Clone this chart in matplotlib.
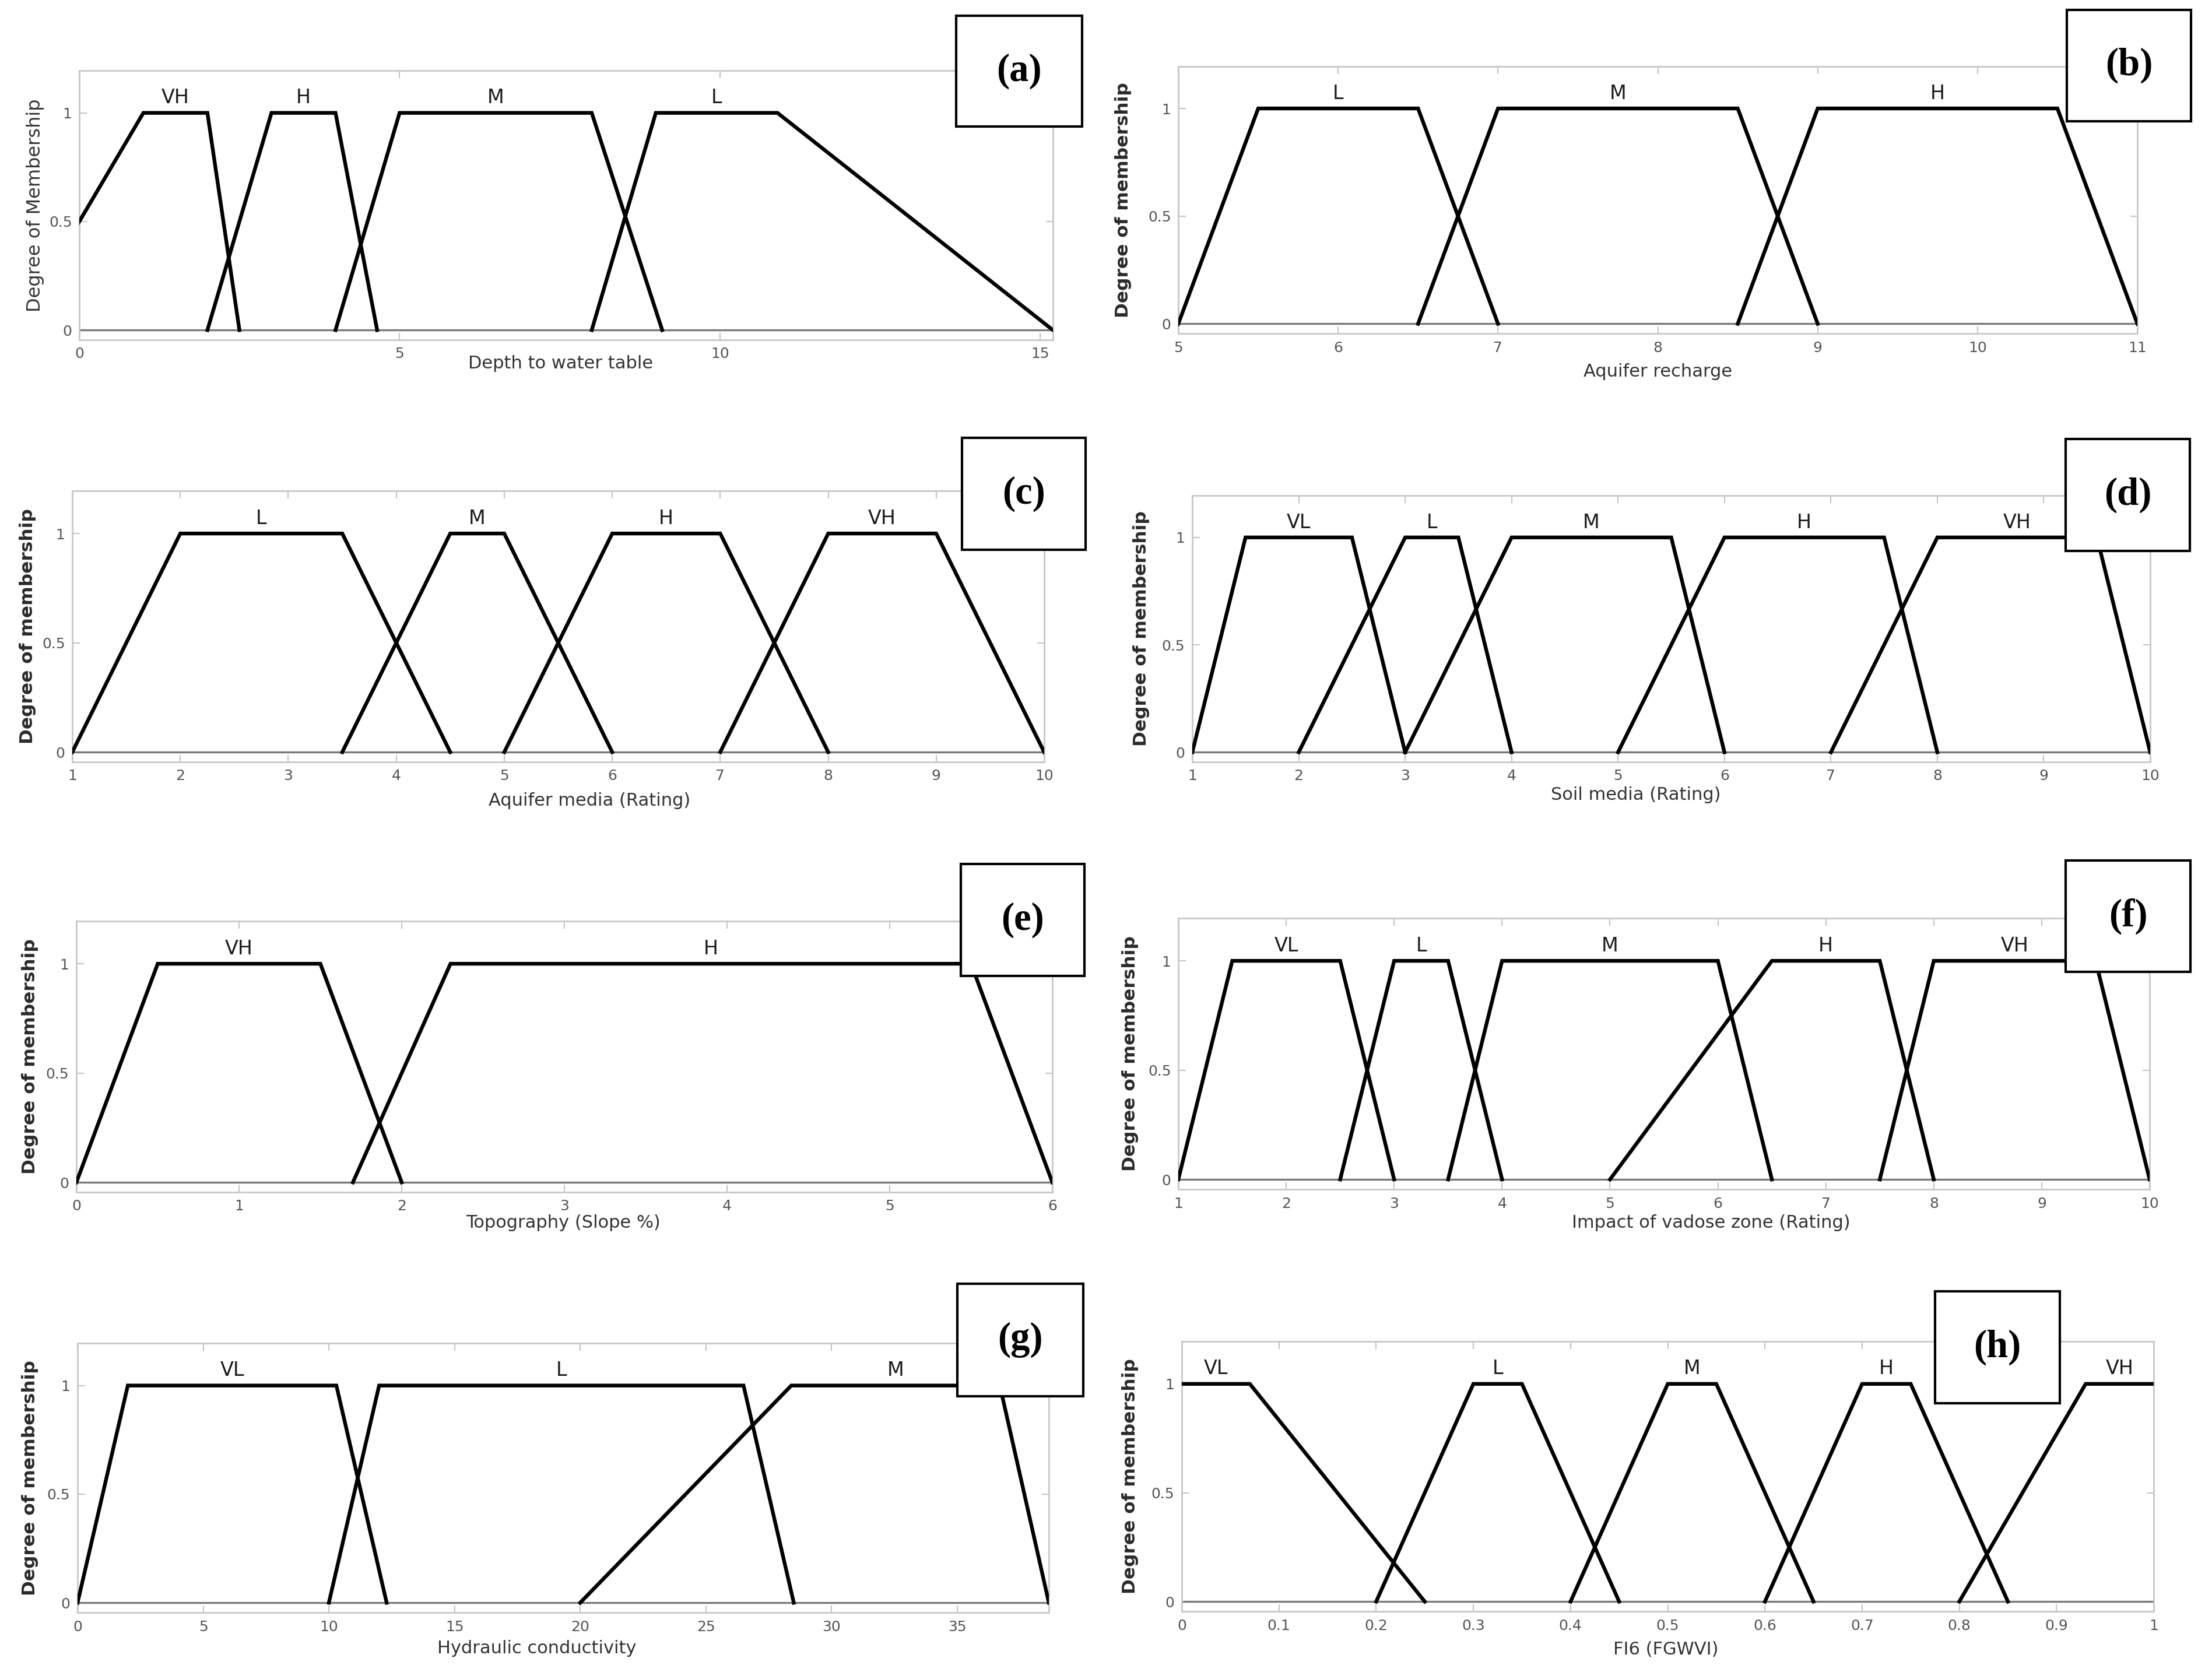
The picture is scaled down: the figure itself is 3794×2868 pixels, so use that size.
import matplotlib
matplotlib.use("Agg")
import matplotlib.pyplot as plt
from matplotlib.patches import Rectangle

# membership functions, trapezoids [a, b, c, d]
depth_terms = ['VH', 'H', 'M', 'L']
depth_mf = [[-1, 1, 2, 2.5], [2, 3, 4, 4.65], [4, 5, 8, 9.1], [8, 9, 10.9, 15.2]]

recharge_terms = ['L', 'M', 'H']
recharge_mf = [[5, 5.5, 6.5, 7], [6.5, 7, 8.5, 9], [8.5, 9, 10.5, 11]]

aquifer_terms = ['L', 'M', 'H', 'VH']
aquifer_mf = [[1, 2, 3.5, 4.5], [3.5, 4.5, 5, 6], [5, 6, 7, 8], [7, 8, 9, 10]]

soil_terms = ['VL', 'L', 'M', 'H', 'VH']
soil_mf = [[1, 1.5, 2.5, 3], [2, 3, 3.5, 4], [3, 4, 5.5, 6], [5, 6, 7.5, 8], [7, 8, 9.5, 10]]

topo_terms = ['VH', 'H']
topo_mf = [[0, 0.5, 1.5, 2], [1.7, 2.3, 5.5, 6]]

vadose_terms = ['VL', 'L', 'M', 'H', 'VH']
vadose_mf = [[1, 1.5, 2.5, 3], [2.5, 3, 3.5, 4], [3.5, 4, 6, 6.5], [5, 6.5, 7.5, 8], [7.5, 8, 9.5, 10]]

hydraulic_terms = ['VL', 'L', 'M']
hydraulic_mf = [[0, 2, 10.3, 12.3], [10, 12, 26.5, 28.5], [20, 28.4, 36.7, 38.65]]

fgwvi_terms = ['VL', 'L', 'M', 'H', 'VH']
fgwvi_mf = [[0, 0, 0.07, 0.25], [0.2, 0.3, 0.35, 0.45], [0.4, 0.5, 0.55, 0.65],
            [0.6, 0.7, 0.75, 0.85], [0.8, 0.93, 1, 1]]

W, H = 3794, 2868

# (tag, terms, mfs, xlim, xticks, xlabel, ylabel, axes px [L,T,R,B], box px [x0,y0,x1,y1],
#  xlabel centre px, ylabel x px)
panels = [
    ('(a)', depth_terms, depth_mf, (0, 15.2), [0, 5, 10, 15], 'Depth to water table',
     'Degree of Membership', [136, 121, 1806, 583], [1640, 27, 1856, 217], (962, 624), 61),
    ('(b)', recharge_terms, recharge_mf, (5, 11), list(range(5, 12)), 'Aquifer recharge',
     'Degree of membership', [2021, 114, 3666, 572], [3545, 17, 3758, 208], (2844, 637), 1927),
    ('(c)', aquifer_terms, aquifer_mf, (1, 10), list(range(1, 11)), 'Aquifer media (Rating)',
     'Degree of membership', [124, 842, 1791, 1307], [1650, 751, 1862, 943], (1011, 1374), 48),
    ('(d)', soil_terms, soil_mf, (1, 10), list(range(1, 11)), 'Soil media (Rating)',
     'Degree of membership', [2045, 850, 3688, 1307], [3543, 753, 3756, 945], (2806, 1363), 1957),
    ('(e)', topo_terms, topo_mf, (0, 6), list(range(0, 7)), 'Topography (Slope %)',
     'Degree of membership', [131, 1580, 1805, 2045], [1648, 1482, 1860, 1674], (966, 2097), 52),
    ('(f)', vadose_terms, vadose_mf, (1, 10), list(range(1, 11)), 'Impact of vadose zone (Rating)',
     'Degree of membership', [2021, 1575, 3687, 2040], [3543, 1476, 3757, 1667], (2935, 2097), 1939),
    ('(g)', hydraulic_terms, hydraulic_mf, (0, 38.65), list(range(0, 40, 5)), 'Hydraulic conductivity',
     'Degree of membership', [133, 2304, 1799, 2766], [1642, 2202, 1858, 2395], (921, 2827), 52),
    ('(h)', fgwvi_terms, fgwvi_mf, (0, 1), [i / 10 for i in range(11)], 'FI6 (FGWVI)',
     'Degree of membership', [2027, 2301, 3694, 2764], [3319, 2215, 3533, 2407], (2857, 2829), 1939),
]

fig = plt.figure(figsize=(W / 100, H / 100), dpi=100)

for tag, terms, mfs, xlim, xticks, xlabel, ylabel, axpx, boxpx, xlpos, ylx in panels:
    L, T, R, B = axpx
    ax = fig.add_axes([L / W, 1 - B / H, (R - L) / W, (B - T) / H])
    ax.set_xlim(*xlim)
    ax.set_ylim(-0.045, 1.195)

    ax.axhline(0, color='#7a7a7a', lw=2.4, zorder=2)
    for name, p in zip(terms, mfs):
        a, b, c, d = p
        xs = [a, b, c, d]
        ys = [0, 1, 1, 0]
        if a == b:
            xs, ys = xs[1:], ys[1:]
        if c == d:
            xs, ys = xs[:-1], ys[:-1]
        ax.plot(xs, ys, color='black', lw=4.6, solid_joinstyle='miter', zorder=3)
        lo = max(b, xlim[0])
        hi = min(c, xlim[1])
        ax.text((lo + hi) / 2, 1.025, name, ha='center', va='bottom',
                fontsize=24, color='#1a1a1a')

    ax.set_xticks(xticks)
    ax.set_xticklabels(['%g' % t for t in xticks])
    ax.set_yticks([0, 0.5, 1])
    ax.set_yticklabels(['0', '0.5', '1'])
    ax.tick_params(direction='in', top=True, right=True, length=9, width=1.5,
                   color='#c4c4c4', labelsize=18, labelcolor='#555555', pad=9)
    for s in ax.spines.values():
        s.set_color('#c8c8c8')
        s.set_linewidth(2)

    fig.text(xlpos[0] / W, 1 - xlpos[1] / H, xlabel, ha='center', va='center',
             fontsize=22, color='#333333')
    if tag == '(a)':
        fig.text(ylx / W, 1 - ((T + B) / 2) / H, ylabel, rotation=90, ha='center',
                 va='center', fontsize=23, color='#333333')
    else:
        fig.text(ylx / W, 1 - ((T + B) / 2) / H, ylabel, rotation=90, ha='center',
                 va='center', fontsize=22.5, fontweight='bold', color='#2a2a2a')

    x0, y0, x1, y1 = boxpx
    fig.add_artist(Rectangle((x0 / W, 1 - y1 / H), (x1 - x0) / W, (y1 - y0) / H,
                             transform=fig.transFigure, facecolor='white',
                             edgecolor='black', lw=3, zorder=10))
    fig.text((x0 + x1) / 2 / W, 1 - ((y0 + y1) / 2) / H, tag, ha='center', va='center',
             fontsize=48, fontweight='bold', family='Liberation Serif', zorder=11)

fig.savefig('out.png', dpi=100, facecolor='white')
